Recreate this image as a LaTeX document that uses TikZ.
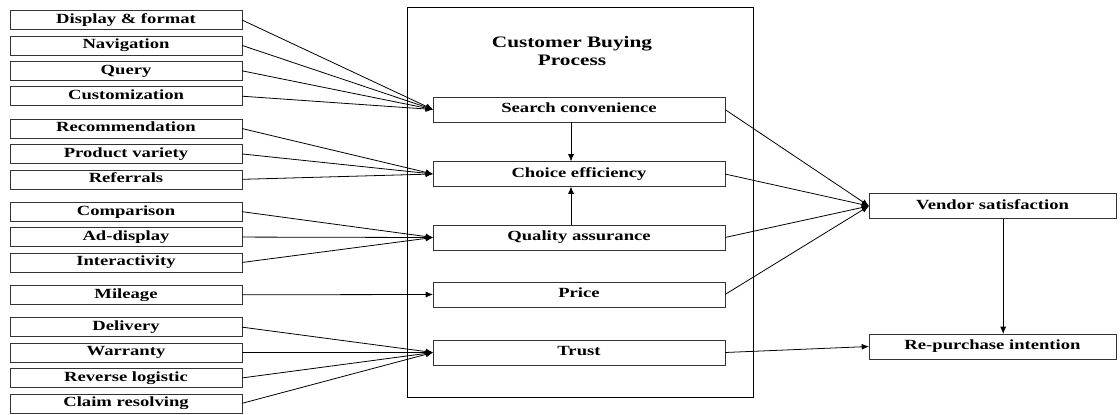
\documentclass[tikz,border=0pt]{standalone}
\usepackage{fontspec}
\setmainfont{Liberation Serif}
\newfontfamily\figfont[FakeStretch=1.33]{Liberation Serif}
\usetikzlibrary{arrows.meta,positioning}
\tikzset{
  >={Latex[length=5.5pt,width=4.5pt]},
  box/.style={draw=black!80,line width=0.5pt,inner sep=0pt,outer sep=0pt,text height=0.7em,text depth=0.2em,font=\figfont\bfseries\fontsize{10.5}{12}\selectfont,align=center,fill=white},
  featbox/.style={box,minimum width=174pt,minimum height=14.25pt},
  stagebox/.style={box,minimum width=219pt,minimum height=18.75pt},
  outbox/.style={box,minimum width=185.25pt,minimum height=18.75pt},
  arr/.style={->,draw=black,line width=0.6pt},
}

\begin{document}
\begin{tikzpicture}[x=0.75pt,y=-0.75pt]
\useasboundingbox (0,0) rectangle (1120,414);

\node[draw,line width=0.6pt,minimum width=259.5pt,minimum height=292.5pt,inner sep=0pt] (frame) at (580,202) {};
\node[font=\figfont\bfseries\fontsize{12}{13.5}\selectfont,align=center] (title) at (572,51) {Customer Buying\\Process};

\node[featbox] (disp) at (126,20) {Display \& format};
\node[featbox,below=4.8pt of disp] (navi) {Navigation};
\node[featbox,below=4.8pt of navi] (query) {Query};
\node[featbox,below=4.8pt of query] (custom) {Customization};
\node[featbox,below=10pt of custom] (recom) {Recommendation};
\node[featbox,below=4.8pt of recom] (variety) {Product variety};
\node[featbox,below=4.8pt of variety] (refer) {Referrals};
\node[featbox,below=10pt of refer] (compar) {Comparison};
\node[featbox,below=4.8pt of compar] (addisp) {Ad-display};
\node[featbox,below=4.8pt of addisp] (interact) {Interactivity};
\node[featbox,below=10pt of interact] (mileage) {Mileage};
\node[featbox,below=10pt of mileage] (deliv) {Delivery};
\node[featbox,below=4.8pt of deliv] (warr) {Warranty};
\node[featbox,below=4.8pt of warr] (revlog) {Reverse logistic};
\node[featbox,below=4.8pt of revlog] (claim) {Claim resolving};

\node[stagebox] (search) at (579,109.5) {Search convenience};
\node[stagebox] (choice) at (579,174) {Choice efficiency};
\node[stagebox] (quality) at (579,237.5) {Quality assurance};
\node[stagebox] (price) at (579,294.5) {Price};
\node[stagebox] (trust) at (579,352.5) {Trust};

\node[outbox] (vendor) at (992.5,206) {Vendor satisfaction};
\node[outbox] (repurch) at (992.5,346.5) {Re-purchase intention};

\draw[arr] (disp.east) -- (search.west);
\draw[arr] (navi.east) -- (search.west);
\draw[arr] (query.east) -- (search.west);
\draw[arr] (custom.east) -- (search.west);

\draw[arr] (recom.east) -- (choice.west);
\draw[arr] (variety.east) -- (choice.west);
\draw[arr] (refer.east) -- (choice.west);

\draw[arr] (compar.east) -- (quality.west);
\draw[arr] (addisp.east) -- (quality.west);
\draw[arr] (interact.east) -- (quality.west);

\draw[arr] (mileage.east) -- (price.west);

\draw[arr] (deliv.east) -- (trust.west);
\draw[arr] (warr.east) -- (trust.west);
\draw[arr] (revlog.east) -- (trust.west);
\draw[arr] (claim.east) -- (trust.west);

\draw[arr] ([xshift=-6pt]search.south) -- ([xshift=-6pt]choice.north);
\draw[arr] ([xshift=-6pt]quality.north) -- ([xshift=-6pt]choice.south);

\draw[arr] (search.east) -- (vendor.west);
\draw[arr] (choice.east) -- (vendor.west);
\draw[arr] (quality.east) -- (vendor.west);
\draw[arr] (price.east) -- (vendor.west);

\draw[arr] (trust.east) -- (repurch.west);
\draw[arr] ([xshift=8pt]vendor.south) -- ([xshift=8pt]repurch.north);
\end{tikzpicture}
\end{document}
